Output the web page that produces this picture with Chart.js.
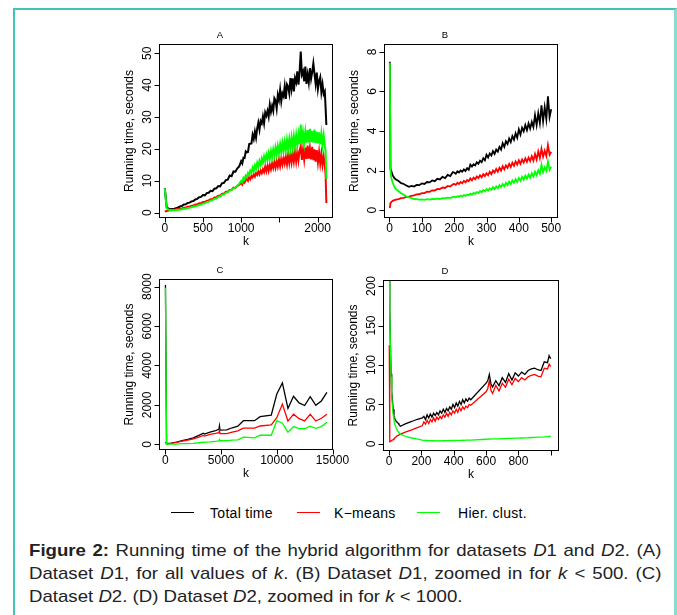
<!DOCTYPE html>
<html>
<head>
<meta charset="utf-8">
<title>Running time of the hybrid algorithm</title>
<script src="https://cdn.jsdelivr.net/npm/chart.js@4.4.1/dist/chart.umd.min.js"></script>
<style>
  html, body { margin: 0; padding: 0; background: #fff; }
  body { position: relative; width: 677px; height: 615px; overflow: hidden;
         font-family: "Liberation Sans", Arial, Helvetica, sans-serif; color: #000; }
  .frame { position: absolute; left: 13px; top: 8px; width: 659px; height: 700px;
           border-left: 2px solid #3fc5b3; border-top: 2px solid #3fc5b3; border-right: 3px solid #8adbd0; }
  .panel { position: absolute; }
  .key { position: absolute; height: 0; width: 23px; border-top: 1.5px solid; top: 512px; }
  .keytext { position: absolute; top: 504px; font-size: 14px; line-height: 18px; letter-spacing: 0.3px; }
  .caption { position: absolute; left: 29px; width: 577px; font-size: 17px; line-height: 23px; color: #222;
             white-space: nowrap; transform: scaleX(1.096); transform-origin: 0 0; }
  .just { text-align: justify; text-align-last: justify; white-space: normal; }
</style>
</head>
<body>
<div class="frame"></div>

<canvas id="chartA" class="panel" width="240" height="230" style="left:100px;top:20px"></canvas>
<canvas id="chartB" class="panel" width="240" height="230" style="left:340px;top:20px"></canvas>
<canvas id="chartC" class="panel" width="260" height="230" style="left:100px;top:255px"></canvas>
<canvas id="chartD" class="panel" width="240" height="230" style="left:340px;top:255px"></canvas>

<div class="key" style="left:171px;border-color:#000"></div>
<div class="keytext" style="left:210px">Total time</div>
<div class="key" style="left:297px;border-color:#ff0000"></div>
<div class="keytext" style="left:334px">K&minus;means</div>
<div class="key" style="left:417px;border-color:#00ff00"></div>
<div class="keytext" style="left:458px">Hier. clust.</div>

<div class="caption just" style="top:539px"><b>Figure 2:</b> Running time of the hybrid algorithm for datasets <i>D</i>1 and <i>D</i>2. (A)</div>
<div class="caption just" style="top:562px">Dataset <i>D</i>1, for all values of <i>k</i>. (B) Dataset <i>D</i>1, zoomed in for <i>k</i> &lt; 500. (C)</div>
<div class="caption" style="top:585px">Dataset <i>D</i>2. (D) Dataset <i>D</i>2, zoomed in for <i>k</i> &lt; 1000.</div>

<script>
// Panel A: dataset D1, all k
const kA = [1, 25, 50, 75, 100, 125, 150, 175, 200, 225,
  250, 275, 300, 325, 350, 375, 400, 425, 450, 475,
  500, 525, 550, 575, 600, 625, 650, 675, 700, 725,
  750, 775, 800, 825, 850, 875, 900, 925, 950, 975,
  1000, 1015, 1030, 1045, 1060, 1075, 1090, 1105, 1120, 1135,
  1150, 1165, 1180, 1195, 1210, 1225, 1240, 1255, 1270, 1285,
  1300, 1315, 1330, 1345, 1360, 1375, 1390, 1405, 1420, 1435,
  1450, 1465, 1480, 1495, 1510, 1525, 1540, 1555, 1570, 1585,
  1600, 1615, 1630, 1645, 1660, 1675, 1690, 1705, 1720, 1735,
  1750, 1765, 1780, 1795, 1810, 1825, 1840, 1855, 1870, 1885,
  1900, 1915, 1930, 1945, 1960, 1975, 1990, 2005, 2020, 2035,
  2050, 2065, 2080, 2095, 2105, 2115];
const totalA = [7.6, 1.7, 1.2, 1.0, 1.1, 1.2, 1.4, 1.6, 1.9, 2.1,
  2.5, 2.6, 3.0, 3.1, 3.5, 3.6, 4.1, 4.3, 4.8, 4.9,
  5.5, 5.4, 6.1, 6.2, 6.8, 6.7, 7.5, 7.6, 8.3, 8.2,
  9.2, 9.3, 10.2, 10.3, 11.6, 11.4, 12.9, 12.8, 13.9, 14.5,
  16.1, 15.4, 17.2, 17.1, 19.2, 18.9, 19.0, 21.5, 21.6, 21.7,
  24.4, 23.1, 25.4, 23.5, 26.4, 28.2, 26.0, 28.7, 28.0, 30.2,
  28.0, 31.4, 30.4, 31.9, 30.1, 33.8, 31.6, 33.5, 31.9, 35.9,
  35.2, 32.7, 36.9, 35.3, 38.5, 34.9, 37.4, 36.5, 39.6, 35.7,
  40.2, 39.5, 37.4, 42.2, 38.9, 42.1, 38.0, 42.2, 40.9, 44.3,
  40.1, 44.1, 50.5, 43.3, 44.3, 41.2, 45.8, 40.4, 43.3, 40.8,
  45.3, 42.0, 44.1, 46.8, 43.5, 40.4, 43.9, 38.8, 41.3, 42.5,
  37.8, 40.3, 37.2, 38.0, 33.0, 27.5];
const kmeansA = [0.3, 0.5, 0.6, 0.7, 0.8, 0.9, 1.0, 1.1, 1.2, 1.3,
  1.5, 1.5, 1.8, 1.9, 2.1, 2.2, 2.5, 2.5, 2.9, 2.9,
  3.3, 3.3, 3.7, 3.8, 4.2, 4.2, 4.7, 4.8, 5.3, 5.3,
  5.9, 5.9, 6.5, 6.5, 7.1, 7.1, 7.8, 7.7, 8.4, 8.7,
  9.3, 8.8, 9.9, 9.4, 10.1, 10.7, 10.0, 11.1, 10.5, 11.5,
  11.0, 12.0, 11.3, 12.4, 11.8, 12.9, 12.0, 13.2, 12.4, 13.6,
  12.7, 14.4, 13.0, 14.7, 13.1, 15.0, 13.6, 15.4, 14.0, 15.9,
  14.1, 16.2, 14.5, 16.6, 14.6, 16.9, 15.1, 17.2, 15.4, 17.5,
  15.2, 18.1, 15.6, 18.4, 15.8, 18.6, 16.0, 19.0, 16.1, 19.2,
  16.4, 19.4, 20.8, 16.5, 19.8, 16.6, 20.4, 16.8, 21.0, 16.9,
  20.2, 16.7, 20.6, 16.4, 19.8, 16.0, 19.6, 15.8, 19.0, 15.4,
  18.4, 15.0, 17.6, 14.8, 12.0, 3.0];
const hierA = [7.5, 1.4, 0.9, 0.7, 0.7, 0.7, 0.8, 0.85, 0.9, 1.0,
  1.2, 1.2, 1.4, 1.5, 1.7, 1.8, 2.0, 2.1, 2.4, 2.5,
  2.8, 2.9, 3.3, 3.4, 3.8, 3.9, 4.3, 4.4, 4.9, 5.0,
  5.6, 5.7, 6.2, 6.4, 6.9, 7.1, 7.6, 7.8, 8.4, 9.0,
  9.9, 9.5, 10.9, 10.4, 11.6, 11.1, 12.4, 11.8, 13.2, 12.6,
  14.1, 13.1, 14.8, 13.8, 15.6, 14.4, 16.2, 15.0, 16.9, 15.6,
  17.6, 16.1, 18.1, 16.6, 18.7, 17.0, 19.3, 17.4, 19.8, 17.9,
  20.4, 18.3, 20.9, 18.7, 21.4, 19.0, 21.8, 19.4, 22.2, 19.7,
  22.8, 20.0, 23.1, 20.3, 23.6, 20.6, 23.9, 20.9, 24.3, 21.1,
  24.5, 21.4, 27.6, 21.6, 25.1, 21.8, 25.4, 21.9, 25.9, 22.0,
  26.3, 22.1, 25.6, 21.9, 26.0, 21.8, 25.4, 21.7, 25.2, 21.4,
  24.8, 21.2, 24.3, 21.0, 19.5, 10.5];

// Panel B: dataset D1, k < 500
const kB = [1, 3, 6, 10, 15, 20, 28, 36, 44, 52,
  60, 68, 76, 84, 92, 100, 108, 116, 124, 132,
  140, 148, 156, 164, 172, 180, 188, 196,
  200, 205, 210, 215, 220, 225, 230, 235, 240, 245,
  250, 255, 260, 265, 270, 275, 280, 285, 290, 295,
  300, 305, 310, 315, 320, 325, 330, 335, 340, 345,
  350, 355, 360, 365, 370, 375, 380, 385, 390, 395,
  400, 405, 410, 415, 420, 425, 430, 435, 440, 445,
  450, 455, 460, 465, 470, 475, 480, 485, 490, 495, 500];
const totalB = [7.5, 2.1, 1.95, 1.75, 1.62, 1.55, 1.47, 1.36, 1.32, 1.24,
  1.18, 1.22, 1.19, 1.27, 1.26, 1.35, 1.32, 1.42, 1.40, 1.50,
  1.46, 1.58, 1.55, 1.68, 1.62, 1.78, 1.72, 1.92,
  1.90, 1.84, 1.96, 1.90, 2.00, 1.94, 2.06, 1.98, 2.12, 2.04,
  2.30, 2.20, 2.32, 2.26, 2.42, 2.34, 2.50, 2.42, 2.62, 2.52,
  2.80, 2.66, 2.86, 2.76, 2.98, 2.84, 3.06, 2.96, 3.20, 3.06,
  3.38, 3.20, 3.48, 3.34, 3.62, 3.44, 3.74, 3.56, 3.88, 3.66,
  4.08, 3.82, 4.16, 3.98, 4.30, 4.04, 4.38, 4.12, 4.46, 4.20,
  4.80, 4.30, 4.90, 4.40, 5.30, 4.50, 5.20, 4.60, 5.75, 4.70, 5.10];
const kmeansB = [0.1, 0.35, 0.42, 0.47, 0.50, 0.53, 0.55, 0.60, 0.62, 0.67,
  0.68, 0.72, 0.74, 0.79, 0.80, 0.86, 0.86, 0.93, 0.92, 1.00,
  0.99, 1.07, 1.06, 1.14, 1.12, 1.22, 1.19, 1.30,
  1.32, 1.28, 1.38, 1.32, 1.42, 1.36, 1.48, 1.40, 1.52, 1.46,
  1.60, 1.50, 1.64, 1.56, 1.70, 1.62, 1.76, 1.66, 1.82, 1.72,
  1.86, 1.76, 1.94, 1.82, 2.00, 1.90, 2.08, 1.94, 2.14, 2.00,
  2.22, 2.06, 2.26, 2.14, 2.34, 2.18, 2.40, 2.24, 2.46, 2.30,
  2.52, 2.34, 2.56, 2.40, 2.62, 2.44, 2.66, 2.48, 2.72, 2.50,
  2.84, 2.56, 2.96, 2.64, 3.10, 2.70, 3.00, 2.74, 3.28, 2.80, 2.95];
const hierB = [7.45, 2.0, 1.6, 1.38, 1.18, 1.06, 0.95, 0.85, 0.78, 0.70,
  0.64, 0.60, 0.56, 0.55, 0.53, 0.54, 0.52, 0.55, 0.53, 0.56,
  0.55, 0.58, 0.56, 0.60, 0.59, 0.63, 0.61, 0.67,
  0.68, 0.64, 0.70, 0.67, 0.73, 0.69, 0.76, 0.72, 0.79, 0.75,
  0.83, 0.78, 0.87, 0.82, 0.91, 0.86, 0.96, 0.90, 1.01, 0.94,
  1.06, 0.98, 1.10, 1.02, 1.16, 1.06, 1.20, 1.10, 1.26, 1.16,
  1.32, 1.20, 1.38, 1.26, 1.44, 1.32, 1.50, 1.38, 1.56, 1.42,
  1.62, 1.48, 1.68, 1.54, 1.74, 1.58, 1.80, 1.64, 1.86, 1.70,
  1.94, 1.76, 2.02, 1.84, 2.30, 1.92, 2.16, 1.98, 2.46, 2.04, 2.20];

// Panel C: dataset D2, all k
const kC = [1, 100, 500, 1000, 1500, 2000, 2500, 3000, 3400, 3500,
  4000, 4500, 4800, 4850, 4900, 5500, 6000, 6500, 7000, 8000,
  8500, 9500, 10000, 10500, 11000, 11500, 12000, 12500, 13000, 13500,
  14000, 14500];
const totalC = [8080, 30, 55, 110, 190, 250, 330, 450, 560, 520,
  620, 700, 760, 940, 720, 730, 840, 920, 1200, 1200,
  1400, 1480, 2550, 3120, 1820, 2440, 2100, 1970, 2420, 1980,
  2200, 2640];
const kmeansC = [125, 20, 50, 100, 160, 215, 280, 370, 450, 420,
  500, 550, 590, 700, 540, 540, 620, 680, 820, 820,
  930, 990, 1350, 2040, 1180, 1530, 1300, 1190, 1520, 1180,
  1320, 1530];
const hierC = [7950, 10, 5, 10, 30, 35, 50, 80, 110, 100,
  120, 150, 170, 240, 180, 190, 210, 230, 360, 330,
  460, 460, 1200, 1070, 620, 900, 800, 790, 920, 810,
  900, 1120];

// Panel D: dataset D2, k < 1000
const kD = [1, 3, 5, 8, 12, 16, 20, 25, 30, 35,
  40, 45, 50, 55, 60, 65, 70, 100, 140, 170,
  205, 215, 225, 235, 245, 255, 265, 275, 285, 295,
  305, 315, 325, 335, 345, 355, 365, 375, 385, 395,
  405, 415, 425, 435, 445, 455, 465, 475, 485, 495,
  505, 600, 610, 620, 630, 640, 660, 680, 700, 720,
  740, 760, 780, 800, 820, 840, 860, 880, 900, 920,
  940, 960, 980, 990, 1000];
const totalD = [385, 207, 168, 124, 89, 66, 56, 44, 37, 32,
  30, 28.5, 27.5, 26.5, 25, 23.5, 22.5, 25.5, 28.5, 31,
  33, 35, 31, 37, 33, 38, 34, 39, 36, 40,
  37, 42, 39, 44, 40, 45, 42, 47, 44, 50,
  46, 52, 48, 54, 50, 56, 52, 57, 54, 58,
  56, 77, 80, 88, 76, 72, 80, 74, 84, 78,
  89, 81, 90, 86, 91, 88, 93, 95, 96, 94,
  93, 104, 103, 112, 108];
const kmeansD = [125, 2, 3, 3.5, 4, 4.5, 5, 5.5, 6.5, 7.5,
  8.5, 9.5, 10.5, 11, 11.5, 12, 12.5, 15, 18, 20.5,
  23, 28, 25, 30, 26, 31, 28, 33, 29, 34,
  31, 35, 32, 37, 34, 39, 35, 40, 37, 42,
  39, 44, 40, 46, 42, 47, 44, 48, 46, 50,
  49, 66, 70, 80, 68, 64, 74, 67, 77, 72,
  82, 75, 83, 79, 84, 81, 85, 87, 88, 86,
  85, 96, 95, 101, 98];
const hierD = [260, 205, 165, 120, 85, 62, 48, 37, 30, 25,
  22, 19.5, 17.5, 16, 14.5, 13.5, 12.5, 9.8, 7.6, 6.4,
  5.0, 4.7, 4.5, 4.4, 4.2, 4.3, 4.1, 4.2, 4.0, 4.1,
  4.0, 4.1, 4.0, 4.2, 4.1, 4.3, 4.2, 4.4, 4.3, 4.5,
  4.4, 4.6, 4.5, 4.7, 4.6, 4.8, 4.7, 4.9, 4.8, 5.0,
  5.0, 6.0, 6.1, 6.3, 6.2, 6.4, 6.5, 6.6, 6.8, 6.9,
  7.2, 7.1, 7.4, 7.5, 7.6, 7.7, 7.9, 8.2, 8.3, 8.6,
  8.8, 9.0, 9.3, 9.5, 9.8];

// axis ticks and labels
const xTicksA = [0, 500, 1000, 1500, 2000];
const xLabelsA = ['0', '500', '1000', '', '2000'];
const yTicksA = [0, 10, 20, 30, 40, 50];
const xTicksB = [0, 100, 200, 300, 400, 500];
const yTicksB = [0, 2, 4, 6, 8];
const xTicksC = [0, 5000, 10000, 15000];
const yTicksC = [0, 2000, 4000, 6000, 8000];
const xTicksD = [0, 200, 400, 600, 800, 1000];
const xLabelsD = ['0', '200', '400', '600', '800', ''];
const yTicksD = [0, 50, 100, 150, 200];

const FONT = '"Liberation Sans", Arial, Helvetica, sans-serif';

// R-style box, ticks and labels, placed with the chart's own scales
const rAxes = {
  id: 'rAxes',
  afterDraw(chart, args, o) {
    const ctx = chart.ctx, a = chart.chartArea;
    const x = chart.scales.x, y = chart.scales.y;
    const L = Math.round(a.left) + 0.5, R = Math.round(a.right) + 0.5;
    const T = Math.round(a.top) + 0.5, B = Math.round(a.bottom) + 0.5;
    ctx.save();
    ctx.strokeStyle = '#000';
    ctx.lineWidth = 1;
    ctx.strokeRect(L, T, R - L, B - T);
    ctx.beginPath();
    o.xTicks.forEach(v => {
      const px = Math.round(x.getPixelForValue(v)) + 0.5;
      ctx.moveTo(px, B);
      ctx.lineTo(px, B + 5);
    });
    o.yTicks.forEach(v => {
      const py = Math.round(y.getPixelForValue(v)) + 0.5;
      ctx.moveTo(L, py);
      ctx.lineTo(L - 5, py);
    });
    ctx.stroke();

    ctx.fillStyle = '#000';
    ctx.textAlign = 'center';
    ctx.textBaseline = 'middle';
    ctx.font = '12px ' + FONT;
    o.xTicks.forEach((v, i) => {
      const lab = o.xLabels ? o.xLabels[i] : String(v);
      ctx.fillText(lab, x.getPixelForValue(v), B + 11);
    });
    o.yTicks.forEach(v => {
      ctx.save();
      ctx.translate(L - 12, y.getPixelForValue(v));
      ctx.rotate(-Math.PI / 2);
      ctx.fillText(String(v), 0, 0);
      ctx.restore();
    });
    ctx.fillText('k', (L + R) / 2, B + 24);
    ctx.save();
    ctx.translate(L - 30, (T + B) / 2);
    ctx.rotate(-Math.PI / 2);
    ctx.fillText('Running time, seconds', 0, 0);
    ctx.restore();
    // panel letter sits left of the box centre, as in the original layout
    ctx.font = '9.5px ' + FONT;
    ctx.fillText(o.title, (L + R) / 2 - 26, T - 9);
    ctx.restore();
  }
};

function makePanel(id, k, total, kmeans, hier, xr, yr, pad, lw, axes) {
  const pts = arr => k.map((v, i) => ({ x: v, y: arr[i] }));
  const line = (label, arr, color) => ({
    label: label, data: pts(arr), borderColor: color, borderWidth: lw,
    pointRadius: 0, fill: false, tension: 0, clip: 0
  });
  new Chart(document.getElementById(id), {
    type: 'line',
    data: {
      // drawn last-to-first: green on top, black underneath
      datasets: [
        line('Hier. clust.', hier, '#00ff00'),
        line('K-means', kmeans, '#ff0000'),
        line('Total time', total, '#000000')
      ]
    },
    options: {
      responsive: false,
      animation: false,
      devicePixelRatio: 1,
      events: [],
      parsing: false,
      layout: { padding: pad },
      scales: {
        x: { type: 'linear', min: xr[0], max: xr[1], display: false },
        y: { type: 'linear', min: yr[0], max: yr[1], display: false }
      },
      plugins: { legend: { display: false }, tooltip: { enabled: false }, rAxes: axes }
    },
    plugins: [rAxes]
  });
}

makePanel('chartA', kA, totalA, kmeansA, hierA, [-75, 2189], [-1.4, 52.9],
  { left: 59, top: 24, right: 8, bottom: 33 }, 2,
  { title: 'A', xTicks: xTicksA, xLabels: xLabelsA, yTicks: yTicksA });
makePanel('chartB', kB, totalB, kmeansB, hierB, [-17, 518], [-0.35, 8.4],
  { left: 44, top: 24, right: 23, bottom: 33 }, 1.8,
  { title: 'B', xTicks: xTicksB, yTicks: yTicksB });
makePanel('chartC', kC, totalC, kmeansC, hierC, [-578, 14955], [-238, 8390],
  { left: 59, top: 24, right: 28, bottom: 36 }, 1.3,
  { title: 'C', xTicks: xTicksC, yTicks: yTicksC });
makePanel('chartD', kD, totalD, kmeansD, hierD, [-38, 1045], [-7.6, 207.6],
  { left: 43, top: 25, right: 22, bottom: 35 }, 1.3,
  { title: 'D', xTicks: xTicksD, xLabels: xLabelsD, yTicks: yTicksD });
</script>
</body>
</html>
